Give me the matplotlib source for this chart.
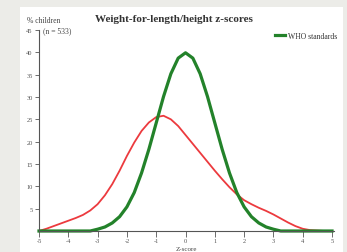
import numpy as np
import matplotlib.pyplot as plt
from matplotlib.patches import Rectangle

# z-score grid (step 0.25) and % of children
z = np.arange(-5, 5.01, 0.25)
enquete = [0, 0.5, 1.1, 1.7, 2.3, 2.9, 3.6, 4.6, 6.0, 8.0, 10.5, 13.5, 16.8,
           19.8, 22.4, 24.3, 25.5, 25.8, 25.0, 23.5, 21.5, 19.5, 17.5, 15.5,
           13.5, 11.6, 9.8, 8.2, 6.9, 6.0, 5.2, 4.5, 3.7, 2.8, 1.9, 1.1, 0.5,
           0.2, 0.1, 0, 0]
who = [0, 0, 0, 0, 0, 0, 0, 0, 0.4, 0.9, 1.8, 3.2, 5.4, 8.6, 13.0, 18.3,
       24.2, 30.1, 35.2, 38.7, 39.9, 38.7, 35.2, 30.1, 24.2, 18.3, 13.0,
       8.6, 5.4, 3.2, 1.8, 0.9, 0.4, 0, 0, 0, 0, 0, 0, 0, 0]
xticks = [-5, -4, -3, -2, -1, 0, 1, 2, 3, 4, 5]
yticks = [5, 10, 15, 20, 25, 30, 35, 40, 45]

plt.rcParams['font.family'] = ['Liberation Serif', 'DejaVu Serif']

fig = plt.figure(figsize=(3.47, 2.53), dpi=100, facecolor='#ecece8')
# zone blanche du graphique
fig.patches.append(Rectangle((20/347, 0), 323/347, 245/253, transform=fig.transFigure,
                             facecolor='white', edgecolor='none', zorder=-1))

ax = fig.add_axes([39/347, 21/253, 294.5/347, 201/253])
ax.set_facecolor('none')
ax.plot(z, enquete, color='#ec3a3e', lw=1.3, clip_on=False, solid_joinstyle='round')
ax.plot(z, who, color='#23822a', lw=2.3, clip_on=False, solid_joinstyle='round',
        label='WHO standards')

ax.set_xlim(-5, 5.05)
ax.set_ylim(0, 45)
ax.set_xticks(xticks)
ax.set_xticklabels([str(t) for t in xticks])
ax.set_yticks(yticks)
ax.tick_params(axis='both', labelsize=4.6, length=3, width=0.6, color='#555555',
               labelcolor='#555555', pad=1.5)
ax.tick_params(axis='x', length=4, pad=0.8)
for s in ['top', 'right']:
    ax.spines[s].set_visible(False)
for s in ['left', 'bottom']:
    ax.spines[s].set_linewidth(0.8)
    ax.spines[s].set_color('#555555')

ax.legend(loc='center right', bbox_to_anchor=(337/347, 1 - 37/253), bbox_transform=fig.transFigure,
          frameon=False, fontsize=5.5, handlelength=1.3, handletextpad=0.4, borderaxespad=0,
          borderpad=0, labelcolor='#333333')

fig.text(174/347, 1 - 20/253, 'Weight-for-length/height z-scores', ha='center', va='center',
         fontsize=8, fontweight='bold', color='#333333')
fig.text(27/347, 1 - 21/253, '% children', ha='left', va='center', fontsize=5.5, color='#444444')
fig.text(43/347, 1 - 31/253, '(n = 533)', ha='left', va='center', fontsize=5.5, color='#444444')
fig.text(186/347, 0.5/253, 'Z-score', ha='center', va='bottom', fontsize=5, color='#444444')

fig.savefig('out.png', dpi=100, facecolor=fig.get_facecolor())
